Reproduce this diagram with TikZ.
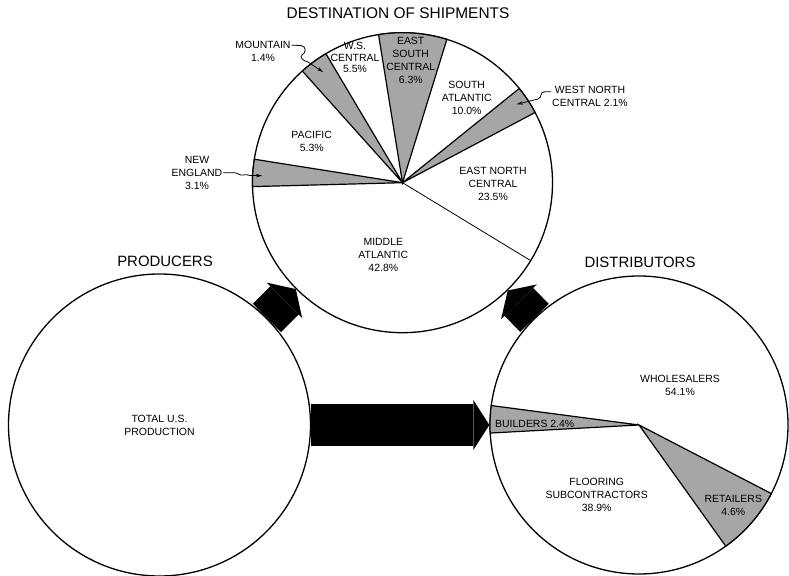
\documentclass[tikz,border=0pt]{standalone}
\usepackage{fontspec}
\setmainfont{Liberation Sans}
\usetikzlibrary{arrows.meta}

\tikzset{
  piechart/.style={circle,draw,line width=1.3bp,inner sep=0pt,align=center,
    font=\fontsize{10.5}{13}\selectfont},
  shaded/.style={fill=black!35,draw=black,line width=1.2bp},
  lbl/.style={align=center,font=\fontsize{10.5}{13}\selectfont,inner sep=1bp},
  header/.style={font=\fontsize{15}{18}\selectfont},
  blockarrow/.style={line width=42bp,-{Triangle[length=16bp,width=50bp,line width=0pt]}},
  leader/.style={line width=0.8bp,-{Stealth[length=6bp,width=3.5bp]}},
}

\begin{document}
\begin{tikzpicture}[x=1bp,y=1bp]
  \useasboundingbox (0,0) rectangle (789,576);

  \node[piechart,minimum size=300bp] (dest) at (402.5,393.3) {};
  \node[piechart,minimum size=302bp] (prod) at (159.5,151) {TOTAL U.S.\\PRODUCTION};
  \node[piechart,minimum size=298bp] (dist) at (639,151) {};

  \node[header,font=\fontsize{15.5}{18}\selectfont] (title) at (398,563) {DESTINATION OF SHIPMENTS};
  \node[header] (prodhead) at (165,315) {PRODUCERS};
  \node[header] (disthead) at (640,314) {DISTRIBUTORS};

  % destination of shipments
  \begin{scope}[shift={(dest.center)}]
  \draw[line width=0.8bp] (0,0) -- (328.7:150);
  \draw[shaded] (0,0) -- (72.8:150) arc (72.8:99.2:150) -- cycle;
  \draw[shaded] (0,0) -- (120.7:150) arc (120.7:131.9:150) -- cycle;
  \draw[shaded] (0,0) -- (171:150) arc (171:181.5:150) -- cycle;
  \draw[shaded] (0,0) -- (27.9:150) arc (27.9:38.9:150) -- cycle;
  \end{scope}

  \node[lbl] (esc) at (410.7,516) {EAST\\SOUTH\\CENTRAL\\6.3\%};
  \node[lbl,font=\fontsize{10.5}{11.5}\selectfont] (wsc) at (355,518.3) {W.S.\\CENTRAL\\5.5\%};
  \node[lbl] (sa) at (466.7,477.7) {SOUTH\\ATLANTIC\\10.0\%};
  \node[lbl] (enc) at (493,391.7) {EAST NORTH\\CENTRAL\\23.5\%};
  \node[lbl] (ma) at (383.3,320.7) {MIDDLE\\ATLANTIC\\42.8\%};
  \node[lbl] (pac) at (311.7,434.3) {PACIFIC\\5.3\%};
  \node[lbl] (mtn) at (263,524.3) {MOUNTAIN\\1.4\%};
  \node[lbl] (ne) at (197,403.3) {NEW\\ENGLAND\\3.1\%};
  \node[lbl] (wnc) at (590,479.3) {WEST NORTH\\CENTRAL 2.1\%};

  \coordinate (mtntip) at (323,504);
  \coordinate (netip) at (262,400.3);
  \coordinate (wnctip) at (516.7,471.7);
  \draw[leader] ([yshift=6.5bp]mtn.east) -- (301,530.5)
    .. controls (307,529.5) and (306,523) .. (302,521)
    .. controls (299,519) and (303,515) .. (308,514) -- (mtntip);
  \draw[leader] (ne.east) -- (234,403.3)
    .. controls (238,403.3) and (240,400) .. (243,401)
    .. controls (246,402) and (247,401) .. (250,400.5) -- (netip);
  \draw[leader] ([yshift=5bp]wnc.west) -- (545,484.3)
    .. controls (539,484.3) and (543,479) .. (538,477) -- (wnctip);

  % distributors
  \begin{scope}[shift={(dist.center)}]
  \draw[shaded] (0,0) -- (172.5:149) arc (172.5:183.1:149) -- cycle;
  \draw[shaded] (0,0) -- (-54.4:149) arc (-54.4:-27.4:149) -- cycle;
  \end{scope}

  \node[lbl,anchor=west] (bld) at (494,152) {BUILDERS 2.4\%};
  \node[lbl] (whl) at (680,191) {WHOLESALERS\\54.1\%};
  \node[lbl] (flr) at (596.7,81) {FLOORING\\SUBCONTRACTORS\\38.9\%};
  \node[lbl] (ret) at (733.3,70.2) {RETAILERS\\4.6\%};

  % flows
  \draw[blockarrow] (prod) -- (dist);
  \draw[blockarrow,line width=40bp] (prod) -- (dest);
  \draw[blockarrow,line width=40bp] (dist) -- (dest);
\end{tikzpicture}
\end{document}
